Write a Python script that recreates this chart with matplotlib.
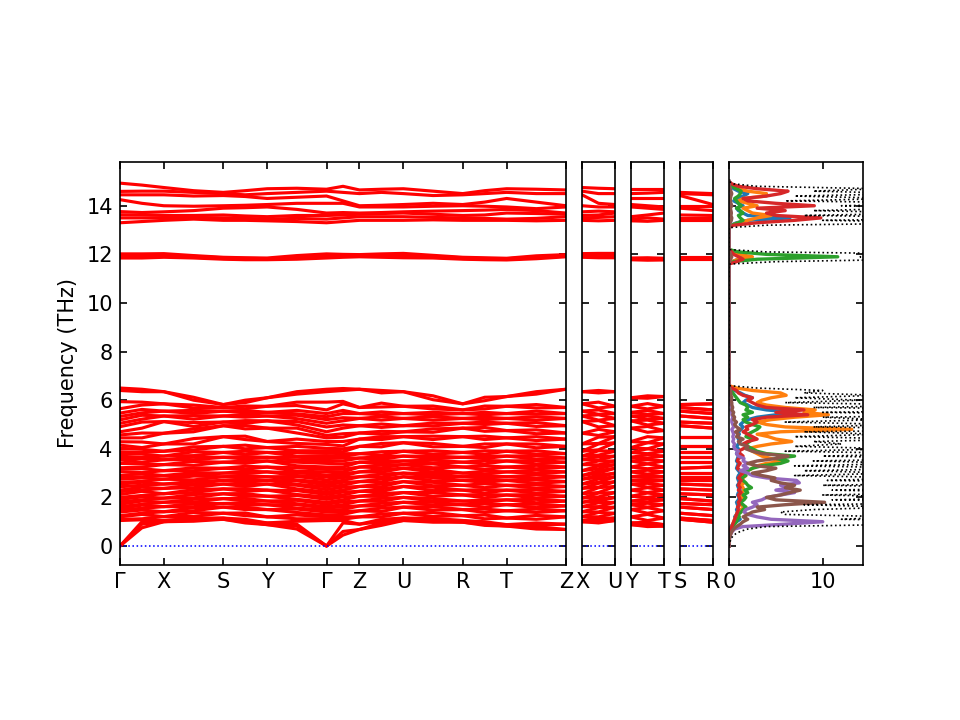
import numpy as np
import matplotlib
matplotlib.use('Agg')
import matplotlib.pyplot as plt

# half lengths of the reciprocal vectors a*, b*, c* (1/Angstrom)
half_a, half_b, half_c = 0.0888, 0.1202, 0.0667

main_labels = ['Γ', 'X', 'S', 'Y', 'Γ', 'Z', 'U', 'R', 'T', 'Z']
main_steps = [half_a, half_b, half_a, half_b, half_c, half_a, half_b, half_a, half_b]
side_labels = [['X', 'U'], ['Y', 'T'], ['S', 'R']]

# frequencies (THz) below 7 THz.
# Gamma and segment midpoints: all 48 branches; zone-boundary points: 24 doubly degenerate levels
lo_G1 = [0, 0, 0, 1.05, 1.1, 1.2, 1.25, 1.4, 1.5, 1.55, 1.62, 1.72, 1.82, 1.92, 2.0, 2.12,
         2.24, 2.3, 2.44, 2.55, 2.62, 2.75, 2.85, 2.9, 3.06, 3.16, 3.22, 3.4, 3.54, 3.6, 3.7,
         3.8, 3.88, 4.02, 4.15, 4.29, 4.45, 4.57, 4.7, 4.91, 5.05, 5.19, 5.33, 5.47, 5.65,
         5.94, 6.4, 6.5]
lo_G2 = [0, 0, 0, 1.05, 1.12, 1.2, 1.28, 1.4, 1.48, 1.56, 1.62, 1.72, 1.8, 1.92, 2.02, 2.12,
         2.22, 2.32, 2.44, 2.52, 2.62, 2.72, 2.85, 2.92, 3.05, 3.15, 3.25, 3.4, 3.52, 3.62, 3.72,
         3.82, 3.92, 4.02, 4.18, 4.3, 4.45, 4.55, 4.7, 4.9, 5.05, 5.2, 5.32, 5.45, 5.6,
         5.92, 6.35, 6.45]
lo_GX = [0.75, 0.9, 1.0, 1.08, 1.12, 1.3, 1.35, 1.48, 1.55, 1.68, 1.72, 1.85, 1.9, 2.02,
         2.08, 2.25, 2.3, 2.42, 2.5, 2.62, 2.66, 2.8, 2.85, 2.98, 3.02, 3.18, 3.25, 3.38,
         3.45, 3.6, 3.64, 3.78, 3.85, 3.98, 4.05, 4.28, 4.45, 4.65, 4.85, 5.1, 5.22, 5.38,
         5.48, 5.62, 5.8, 5.92, 6.35, 6.45]
lo_X = [1.0, 1.05, 1.21, 1.41, 1.62, 1.8, 1.97, 2.15, 2.37, 2.55, 2.75, 2.9,
        3.1, 3.35, 3.55, 3.7, 3.9, 4.2, 4.64, 5.12, 5.35, 5.55, 5.85, 6.35]
lo_XS = [1.02, 1.08, 1.1, 1.15, 1.22, 1.38, 1.45, 1.58, 1.62, 1.75, 1.8, 1.92, 1.98, 2.12,
         2.2, 2.32, 2.4, 2.52, 2.56, 2.66, 2.72, 2.88, 2.9, 3.02, 3.1, 3.22, 3.32, 3.48,
         3.55, 3.66, 3.72, 3.88, 3.95, 4.08, 4.2, 4.42, 4.7, 4.82, 4.92, 5.08, 5.22, 5.36,
         5.45, 5.58, 5.68, 5.8, 6.0, 6.12]
lo_S = [1.1, 1.15, 1.35, 1.6, 1.75, 1.95, 2.15, 2.35, 2.55, 2.7, 2.85, 3.0,
        3.2, 3.45, 3.65, 3.85, 4.1, 4.5, 4.95, 5.1, 5.35, 5.55, 5.7, 5.82]
lo_SY = [0.95, 1.0, 1.02, 1.1, 1.25, 1.36, 1.5, 1.6, 1.68, 1.78, 1.85, 1.96, 2.05, 2.16,
         2.25, 2.36, 2.45, 2.56, 2.62, 2.74, 2.8, 2.9, 2.98, 3.08, 3.16, 3.28, 3.4, 3.5,
         3.58, 3.68, 3.76, 3.9, 4.0, 4.15, 4.38, 4.52, 4.82, 4.96, 5.05, 5.16, 5.3, 5.4,
         5.48, 5.58, 5.65, 5.76, 5.9, 6.0]
lo_Y = [0.88, 0.95, 1.2, 1.5, 1.7, 1.85, 2.05, 2.3, 2.55, 2.7, 2.85, 3.05,
        3.25, 3.5, 3.65, 3.85, 4.05, 4.3, 4.85, 5.15, 5.35, 5.5, 5.75, 6.1]
lo_YG = [0.7, 0.82, 0.9, 1.02, 1.12, 1.28, 1.38, 1.52, 1.56, 1.7, 1.74, 1.88, 1.92, 2.08,
         2.12, 2.28, 2.35, 2.5, 2.54, 2.68, 2.72, 2.86, 2.9, 3.02, 3.08, 3.22, 3.3, 3.45,
         3.52, 3.65, 3.7, 3.85, 3.92, 4.1, 4.22, 4.4, 4.65, 4.85, 4.98, 5.12, 5.24, 5.38,
         5.44, 5.58, 5.78, 5.92, 6.25, 6.35]
lo_GZ = [0.45, 0.6, 0.95, 1.05, 1.1, 1.2, 1.3, 1.42, 1.5, 1.62, 1.7, 1.82, 1.9, 2.02,
         2.1, 2.22, 2.3, 2.42, 2.5, 2.62, 2.7, 2.82, 2.88, 2.98, 3.05, 3.16, 3.25, 3.38,
         3.5, 3.62, 3.68, 3.8, 3.88, 4.0, 4.12, 4.3, 4.48, 4.62, 4.85, 4.98, 5.15, 5.28,
         5.45, 5.58, 5.85, 5.95, 6.4, 6.48]
lo_Z = [0.68, 0.9, 1.2, 1.45, 1.65, 1.85, 2.05, 2.25, 2.45, 2.65, 2.85, 3.05,
        3.25, 3.45, 3.62, 3.8, 4.1, 4.4, 4.65, 4.95, 5.25, 5.45, 5.7, 6.45]
lo_ZU = [0.85, 0.95, 1.0, 1.1, 1.2, 1.32, 1.42, 1.56, 1.64, 1.76, 1.84, 1.96, 2.04, 2.16,
         2.24, 2.36, 2.44, 2.56, 2.64, 2.76, 2.84, 2.96, 3.04, 3.15, 3.22, 3.34, 3.4, 3.5,
         3.56, 3.68, 3.74, 3.88, 4.08, 4.22, 4.38, 4.5, 4.6, 4.72, 4.88, 5.02, 5.18, 5.32,
         5.4, 5.52, 5.72, 5.88, 6.3, 6.4]
lo_U = [1.05, 1.15, 1.35, 1.6, 1.8, 2.0, 2.2, 2.45, 2.65, 2.85, 3.0, 3.2,
        3.35, 3.5, 3.7, 3.9, 4.25, 4.5, 4.7, 4.95, 5.25, 5.45, 5.75, 6.35]
lo_UR = [0.98, 1.05, 1.06, 1.14, 1.22, 1.38, 1.48, 1.62, 1.68, 1.8, 1.85, 1.96, 2.05, 2.2,
         2.28, 2.42, 2.48, 2.62, 2.68, 2.82, 2.86, 2.98, 3.04, 3.16, 3.22, 3.38, 3.42, 3.54,
         3.6, 3.7, 3.78, 3.92, 4.08, 4.22, 4.38, 4.52, 4.68, 4.82, 4.94, 5.06, 5.18, 5.32,
         5.4, 5.5, 5.64, 5.76, 6.02, 6.18]
lo_R = [0.98, 1.05, 1.25, 1.5, 1.7, 1.85, 2.1, 2.3, 2.5, 2.7, 2.85, 3.0,
        3.25, 3.45, 3.65, 3.85, 4.1, 4.5, 4.85, 5.05, 5.25, 5.45, 5.6, 5.85]
lo_RT = [0.85, 0.9, 0.92, 1.0, 1.12, 1.28, 1.38, 1.52, 1.6, 1.74, 1.8, 1.9, 1.98, 2.12,
         2.18, 2.32, 2.4, 2.56, 2.62, 2.74, 2.8, 2.9, 2.96, 3.08, 3.15, 3.3, 3.38, 3.52,
         3.6, 3.7, 3.78, 3.92, 4.05, 4.2, 4.38, 4.52, 4.72, 4.88, 5.0, 5.1, 5.2, 5.3,
         5.4, 5.5, 5.64, 5.76, 5.98, 6.12]
lo_T = [0.82, 0.88, 1.15, 1.45, 1.7, 1.9, 2.1, 2.3, 2.5, 2.7, 2.85, 3.05,
        3.25, 3.5, 3.7, 3.9, 4.2, 4.45, 4.75, 5.05, 5.25, 5.45, 5.75, 6.15]
lo_TZ = [0.7, 0.8, 0.86, 0.95, 1.1, 1.26, 1.38, 1.52, 1.58, 1.72, 1.78, 1.92, 1.98, 2.12,
         2.18, 2.32, 2.38, 2.52, 2.58, 2.72, 2.78, 2.92, 2.98, 3.12, 3.18, 3.32, 3.38, 3.52,
         3.58, 3.72, 3.78, 3.92, 4.04, 4.2, 4.34, 4.5, 4.62, 4.78, 4.92, 5.08, 5.18, 5.32,
         5.42, 5.55, 5.68, 5.82, 6.25, 6.35]
lo_XU = [0.95, 1.08, 1.0, 1.2, 1.15, 1.4, 1.38, 1.62, 1.58, 1.84, 1.78, 2.02, 1.95, 2.2,
         2.18, 2.42, 2.4, 2.62, 2.58, 2.82, 2.76, 3.0, 2.92, 3.18, 3.1, 3.34, 3.3, 3.54,
         3.5, 3.74, 3.68, 3.92, 3.96, 4.2, 4.22, 4.48, 4.55, 4.8, 4.9, 5.16, 5.18, 5.42,
         5.4, 5.6, 5.68, 5.92, 6.3, 6.4]
lo_YT = [0.8, 0.92, 0.84, 0.98, 1.05, 1.3, 1.35, 1.6, 1.58, 1.82, 1.76, 2.0, 1.95, 2.2,
         2.18, 2.42, 2.4, 2.64, 2.58, 2.82, 2.74, 2.96, 2.92, 3.18, 3.12, 3.38, 3.38, 3.62,
         3.55, 3.8, 3.76, 4.0, 4.0, 4.25, 4.25, 4.5, 4.68, 4.92, 4.98, 5.22, 5.18, 5.42,
         5.36, 5.58, 5.64, 5.86, 6.08, 6.18]

# frequencies (THz) above 11 THz: 4 branches near 12, 8 near 14
hi_G1 = [11.85, 11.9, 11.97, 12.02, 13.3, 13.5, 13.63, 13.76, 14.25, 14.45, 14.59, 14.93]
hi_GX = [11.85, 11.9, 11.97, 12.02, 13.35, 13.5, 13.62, 13.72, 14.1, 14.45, 14.6, 14.85]
hi_X = [11.88, 11.92, 11.98, 12.03, 13.4, 13.5, 13.6, 13.75, 14.0, 14.45, 14.6, 14.75]
hi_XS = [11.85, 11.88, 11.92, 11.95, 13.45, 13.52, 13.6, 13.8, 13.98, 14.4, 14.55, 14.62]
hi_S = [11.8, 11.83, 11.86, 11.88, 13.4, 13.5, 13.62, 13.9, 14.0, 14.42, 14.5, 14.55]
hi_SY = [11.78, 11.8, 11.84, 11.86, 13.4, 13.48, 13.58, 13.92, 14.02, 14.38, 14.45, 14.62]
hi_Y = [11.78, 11.8, 11.82, 11.85, 13.38, 13.45, 13.55, 13.95, 14.05, 14.3, 14.5, 14.7]
hi_YG = [11.8, 11.84, 11.9, 11.95, 13.35, 13.48, 13.6, 13.85, 14.1, 14.35, 14.55, 14.72]
hi_G2 = [11.85, 11.9, 11.97, 12.02, 13.3, 13.45, 13.6, 13.7, 14.1, 14.4, 14.6, 14.68]
hi_GZ = [11.88, 11.92, 11.96, 12.0, 13.35, 13.5, 13.62, 13.72, 14.1, 14.2, 14.55, 14.8]
hi_Z = [11.9, 11.93, 11.96, 11.99, 13.4, 13.55, 13.65, 13.7, 13.95, 14.0, 14.5, 14.65]
hi_ZU = [11.88, 11.92, 11.98, 12.02, 13.4, 13.55, 13.68, 13.72, 13.95, 14.02, 14.55, 14.68]
hi_U = [11.86, 11.92, 12.0, 12.04, 13.4, 13.55, 13.7, 13.75, 13.95, 14.05, 14.5, 14.7]
hi_UR = [11.85, 11.88, 11.92, 11.96, 13.42, 13.52, 13.65, 13.78, 13.98, 14.1, 14.42, 14.6]
hi_R = [11.8, 11.83, 11.86, 11.88, 13.4, 13.5, 13.6, 13.8, 14.0, 14.05, 14.45, 14.5]
hi_RT = [11.78, 11.8, 11.83, 11.86, 13.4, 13.48, 13.62, 13.82, 13.98, 14.15, 14.5, 14.62]
hi_T = [11.77, 11.8, 11.82, 11.84, 13.4, 13.45, 13.7, 13.85, 13.95, 14.3, 14.55, 14.7]
hi_TZ = [11.82, 11.86, 11.9, 11.94, 13.38, 13.48, 13.68, 13.8, 13.88, 14.15, 14.5, 14.68]
hi_XU = [11.86, 11.9, 12.0, 12.04, 13.38, 13.52, 13.62, 13.78, 13.95, 14.1, 14.5, 14.72]
hi_YT = [11.76, 11.8, 11.83, 11.86, 13.36, 13.5, 13.62, 13.9, 14.0, 14.3, 14.52, 14.7]

main_path = [(lo_G1, hi_G1), (lo_GX, hi_GX), (lo_X, hi_X), (lo_XS, hi_XS), (lo_S, hi_S),
             (lo_SY, hi_SY), (lo_Y, hi_Y), (lo_YG, hi_YG), (lo_G2, hi_G2), (lo_GZ, hi_GZ),
             (lo_Z, hi_Z), (lo_ZU, hi_ZU), (lo_U, hi_U), (lo_UR, hi_UR), (lo_R, hi_R),
             (lo_RT, hi_RT), (lo_T, hi_T), (lo_TZ, hi_TZ), (lo_Z, hi_Z)]
side_paths = [[(lo_X, hi_X), (lo_XU, hi_XU), (lo_U, hi_U)],
              [(lo_Y, hi_Y), (lo_YT, hi_YT), (lo_T, hi_T)],
              [(lo_S, hi_S), (lo_R, hi_R)]]

# projected DOS, sampled on three frequency windows
dos_f_low = np.round(np.arange(0.3, 6.65, 0.1), 2)
dos_f_mid = np.round(np.arange(11.6, 12.25, 0.1), 2)
dos_f_high = np.round(np.arange(13.1, 15.05, 0.1), 2)

pdos_blue_low = [0.02, 0.03, 0.05, 0.08, 0.12, 0.2, 0.4, 0.8, 1.2, 0.6,
                 0.8, 0.9, 0.8, 1.0, 0.9, 0.8, 1.0, 1.1, 0.9, 1.0,
                 1.2, 1.0, 0.9, 1.1, 1.0, 0.9, 1.0, 1.2, 1.0, 0.8,
                 0.9, 1.0, 0.8, 0.9, 1.0, 0.8, 0.9, 1.0, 0.8, 1.0,
                 1.2, 1.0, 0.9, 1.1, 1.0, 1.3, 1.5, 1.2, 1.5, 2.0,
                 3.0, 5.0, 7.0, 4.0, 2.5, 2.0, 1.5, 1.8, 2.5, 1.7,
                 1.2, 0.6, 0.2, 0.0]
pdos_orange_low = [0.02, 0.04, 0.08, 0.12, 0.2, 0.3, 0.4, 0.5, 0.6, 0.7,
                   0.8, 1.0, 1.2, 1.8, 1.2, 1.0, 1.3, 1.5, 1.2, 1.4,
                   1.6, 1.5, 1.3, 1.6, 1.4, 1.5, 1.8, 1.5, 2.0, 2.5,
                   3.0, 4.0, 6.0, 4.5, 3.5, 3.0, 2.5, 2.0, 3.0, 4.5,
                   6.7, 5.0, 4.2, 3.0, 5.5, 13.1, 6.0, 4.0, 3.0, 4.5,
                   7.0, 10.6, 8.0, 9.2, 6.0, 4.0, 3.0, 3.5, 4.5, 6.1,
                   5.5, 2.5, 0.8, 0.0]
pdos_green_low = [0.02, 0.05, 0.1, 0.15, 0.25, 0.4, 0.6, 0.8, 0.9, 1.1,
                  1.0, 1.3, 1.5, 1.8, 1.5, 1.2, 1.6, 1.8, 1.5, 2.0,
                  1.7, 2.4, 2.0, 1.8, 1.5, 1.3, 1.8, 1.5, 2.0, 2.5,
                  3.5, 5.5, 6.3, 5.0, 7.0, 4.0, 3.0, 2.5, 2.0, 1.8,
                  2.2, 2.5, 1.8, 2.0, 2.5, 3.0, 3.3, 2.5, 1.8, 1.5,
                  2.0, 1.5, 2.5, 1.8, 2.0, 1.8, 1.2, 1.0, 0.8, 0.6,
                  0.4, 0.2, 0.1, 0.0]
pdos_red_low = [0.02, 0.04, 0.08, 0.12, 0.2, 0.3, 0.4, 0.5, 0.6, 0.7,
                0.8, 0.9, 1.0, 0.9, 1.1, 1.0, 1.2, 1.1, 1.0, 1.3,
                1.0, 1.2, 1.0, 1.1, 1.3, 1.0, 1.2, 1.5, 1.2, 0.9,
                1.0, 1.2, 0.9, 1.0, 1.5, 1.2, 1.0, 1.5, 2.0, 1.5,
                2.0, 3.0, 2.5, 2.0, 1.5, 2.0, 1.8, 2.5, 3.0, 2.5,
                4.0, 8.4, 5.0, 8.0, 4.0, 3.0, 2.5, 2.0, 2.5, 1.5,
                1.0, 0.8, 0.3, 0.0]
pdos_purple_low = [0.05, 0.1, 0.2, 0.35, 0.6, 1.5, 6.0, 10.0, 4.5, 3.0,
                   2.0, 1.6, 1.8, 2.5, 3.0, 2.5, 3.5, 4.0, 5.5, 7.0,
                   5.0, 6.5, 5.5, 7.5, 7.2, 4.0, 2.5, 2.0, 1.2, 2.0,
                   1.5, 2.0, 1.5, 1.6, 1.0, 0.8, 1.0, 0.6, 0.5, 0.6,
                   0.4, 0.5, 0.4, 0.5, 0.4, 0.3, 0.5, 0.4, 0.3, 0.3,
                   0.4, 0.3, 0.3, 0.2, 0.3, 0.2, 0.2, 0.2, 0.2, 0.1,
                   0.1, 0.1, 0.05, 0.0]
pdos_brown_low = [0.05, 0.1, 0.2, 0.3, 0.5, 0.8, 1.2, 1.5, 2.0, 1.5,
                  2.0, 2.5, 3.8, 3.0, 6.0, 10.2, 5.0, 4.0, 5.5, 6.5,
                  7.6, 6.0, 7.0, 5.5, 4.5, 4.9, 3.5, 2.5, 4.0, 5.0,
                  3.0, 2.0, 3.0, 5.0, 6.3, 3.5, 2.5, 1.8, 2.0, 1.2,
                  1.0, 1.5, 0.8, 1.0, 0.7, 1.2, 0.8, 0.6, 0.8, 0.5,
                  0.6, 0.4, 0.5, 0.3, 0.4, 0.3, 0.3, 0.2, 0.3, 0.2,
                  0.2, 0.1, 0.05, 0.0]
dos_total_low = [0.2, 0.4, 0.7, 1.2, 2.0, 4.0, 20, 30, 12, 18,
                 6, 5.5, 9, 18, 8, 30, 11, 22, 10, 25,
                 11, 24, 10, 28, 10.5, 20, 7, 18, 8, 22,
                 7, 20, 9, 24, 10, 22, 6, 18, 7, 12,
                 9, 20, 7, 16, 8, 30, 9, 18, 6, 16,
                 10, 28, 10, 30, 9, 22, 6, 14, 7, 16,
                 8, 10, 3, 0]

pdos_blue_mid = [0, 0.3, 1.0, 2.0, 0.8, 0.2, 0]
pdos_orange_mid = [0, 0.3, 1.0, 2.5, 1.0, 0.3, 0]
pdos_green_mid = [0, 0.5, 3.0, 11.6, 4.0, 1.0, 0]
pdos_red_mid = [0, 0.8, 1.5, 1.0, 0.5, 0.3, 0]
pdos_purple_mid = [0, 0.05, 0.1, 0.2, 0.1, 0.05, 0]
pdos_brown_mid = [0, 0.05, 0.15, 0.3, 0.15, 0.05, 0]
dos_total_mid = [0, 5, 20, 14, 25, 4, 0]

pdos_blue_high = [0, 0.2, 0.8, 2.0, 6.5, 2.0, 1.5, 1.0, 0.8, 1.5,
                  1.0, 0.5, 0.8, 1.5, 2.0, 1.0, 0.5, 0.2, 0.05, 0]
pdos_orange_high = [0, 0.3, 1.0, 2.0, 3.0, 4.5, 2.5, 2.0, 1.5, 3.0,
                    2.0, 1.0, 1.5, 4.0, 4.0, 2.0, 1.0, 0.5, 0.1, 0]
pdos_green_high = [0, 0.3, 1.0, 1.5, 1.2, 1.0, 1.5, 1.2, 0.8, 1.3,
                   1.0, 0.8, 0.6, 1.0, 1.2, 1.3, 0.8, 0.3, 0.1, 0]
pdos_red_high = [0, 0.5, 3.0, 7.0, 9.8, 5.0, 4.0, 6.0, 3.0, 9.1,
                 5.0, 2.0, 1.5, 4.0, 5.5, 6.3, 3.0, 1.0, 0.3, 0]
pdos_purple_high = [0, 0.05, 0.1, 0.2, 0.2, 0.15, 0.2, 0.15, 0.1, 0.2,
                    0.15, 0.1, 0.1, 0.15, 0.2, 0.15, 0.1, 0.05, 0, 0]
pdos_brown_high = [0, 0.05, 0.1, 0.25, 0.3, 0.2, 0.25, 0.2, 0.15, 0.3,
                   0.2, 0.15, 0.15, 0.2, 0.3, 0.2, 0.1, 0.05, 0, 0]
dos_total_high = [0, 4, 25, 10, 30, 8, 22, 9, 20, 12,
                  25, 6, 18, 7, 20, 9, 16, 3, 0.5, 0]

pdos_sets = [
    ('C0', pdos_blue_low, pdos_blue_mid, pdos_blue_high),
    ('C1', pdos_orange_low, pdos_orange_mid, pdos_orange_high),
    ('C2', pdos_green_low, pdos_green_mid, pdos_green_high),
    ('C3', pdos_red_low, pdos_red_mid, pdos_red_high),
    ('C4', pdos_purple_low, pdos_purple_mid, pdos_purple_high),
    ('C5', pdos_brown_low, pdos_brown_mid, pdos_brown_high),
]

ylim = (-0.78, 15.8)


def column(lo, hi):
    # 24 listed levels are doubly degenerate
    lo = np.repeat(lo, 2) if len(lo) == 24 else np.array(lo, dtype=float)
    return np.sort(np.concatenate([lo, hi]))


def band_panel(ax, x, columns):
    freqs = np.array([column(lo, hi) for lo, hi in columns])
    ax.plot(x, freqs, color='r', lw=1.5)
    ax.axhline(0, color='b', ls=':', lw=0.75)
    ax.set_xlim(x[0], x[-1])
    ax.set_ylim(*ylim)
    ax.tick_params(direction='in', top=True, right=True)


fig = plt.figure(figsize=(6.4, 4.8), dpi=150)
bottom, height = 0.2153, 0.5597
left, gap = 0.125, 0.0167
scale = 0.4646 / sum(main_steps)

# main path
nodes = np.concatenate([[0.0], np.cumsum(main_steps)])
mids = (nodes[:-1] + nodes[1:]) / 2
x_main = np.sort(np.concatenate([nodes, mids]))
ax = fig.add_axes([left, bottom, sum(main_steps) * scale, height])
band_panel(ax, x_main, main_path)
ax.set_xticks(nodes)
ax.set_xticklabels(main_labels)
ax.set_yticks(range(0, 15, 2))
ax.set_ylabel('Frequency (THz)')
left += sum(main_steps) * scale + gap

# disconnected short segments
for cols, labels in zip(side_paths, side_labels):
    w = half_c * scale
    ax = fig.add_axes([left, bottom, w, height])
    band_panel(ax, np.linspace(0.0, half_c, len(cols)), cols)
    ax.set_xticks([0.0, half_c])
    ax.set_xticklabels(labels)
    ax.set_yticks(range(0, 15, 2))
    ax.tick_params(labelleft=False)
    left += w + gap

# DOS
dos_f = np.concatenate([[0.0], dos_f_low, dos_f_mid, dos_f_high])
ax = fig.add_axes([left, bottom, 0.1396, height])
for color, lo, mi, hi in pdos_sets:
    ax.plot(np.concatenate([[0.0], lo, mi, hi]), dos_f, color=color, lw=1.6)
total = np.concatenate([[0.0], dos_total_low, dos_total_mid, dos_total_high])
ax.plot(total, dos_f, 'k:', lw=0.8)
ax.set_xlim(0, 14.3)
ax.set_ylim(*ylim)
ax.set_xticks([0, 10])
ax.set_yticks(range(0, 15, 2))
ax.tick_params(direction='in', top=True, right=True, labelleft=False)

fig.savefig('out.png')
